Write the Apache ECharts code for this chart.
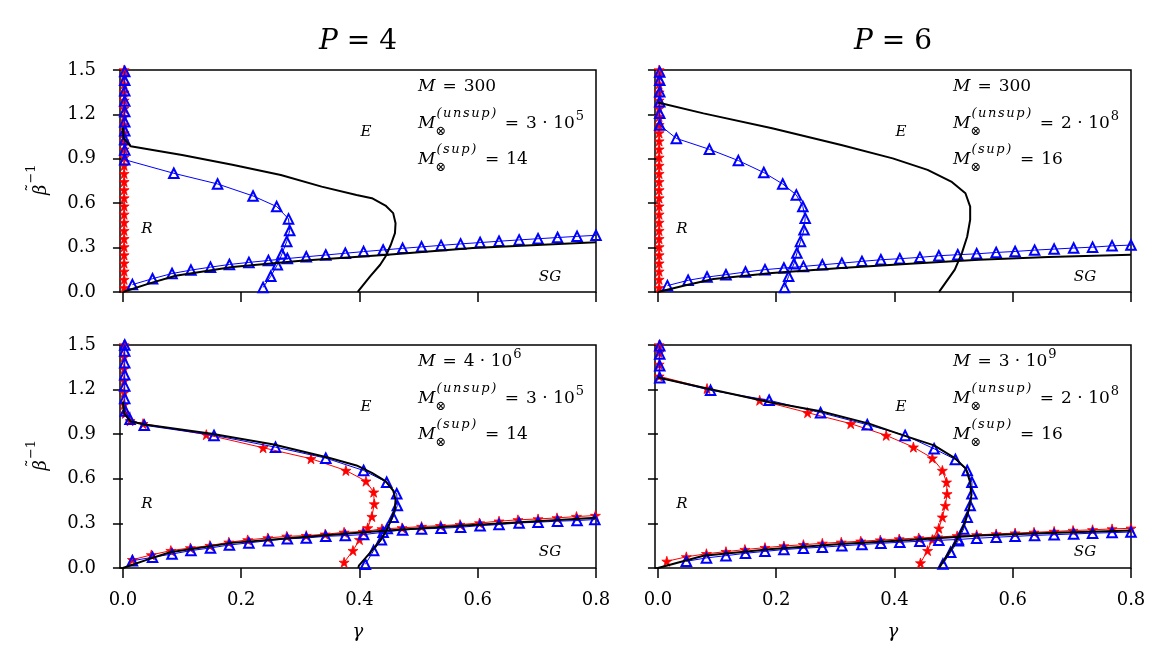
<!DOCTYPE html>
<html>
<head>
<meta charset="utf-8">
<script src="https://cdn.jsdelivr.net/npm/echarts@6.0.0/dist/echarts.min.js"></script>
<style>
  html, body { margin: 0; padding: 0; background: #fff; }
  #chart { width: 1176px; height: 672px; }
</style>
</head>
<body>
<div id="chart"></div>
<script>
// tick values
const xTicks = [0.0, 0.2, 0.4, 0.6, 0.8];
const yTicks = [0.0, 0.3, 0.6, 0.9, 1.2, 1.5];

// ---- P = 4, M = 300 (top left)
const tlBlackE = [[0.0,1.11],[0.001,1.04],[0.013,0.985],[0.10,0.925],[0.185,0.86],[0.267,0.791],[0.336,0.712],[0.395,0.656],[0.421,0.634],[0.444,0.584],[0.457,0.533],[0.461,0.465],[0.46,0.398],[0.453,0.319],[0.444,0.24],[0.435,0.184],[0.418,0.106],[0.399,0.011],[0.397,0.0]];
const tlBlackSG = [[0,0],[0.045,0.058],[0.089,0.110],[0.185,0.169],[0.301,0.211],[0.447,0.252],[0.592,0.297],[0.80,0.336]];
const tlBlue = [[0.003,1.49],[0.003,1.43],[0.003,1.36],[0.003,1.29],[0.003,1.22],[0.003,1.15],[0.003,1.09],[0.003,1.03],[0.003,0.96],[0.003,0.894],[0.086,0.802],[0.160,0.730],[0.220,0.649],[0.260,0.577],[0.280,0.494],[0.282,0.416],[0.277,0.342],[0.269,0.258],[0.261,0.184],[0.250,0.106],[0.237,0.031]];
const tlBlueSG = [[0.016,0.05],[0.05,0.09],[0.083,0.125],[0.115,0.148],[0.148,0.168],[0.18,0.186],[0.213,0.200],[0.246,0.213],[0.278,0.226],[0.31,0.238],[0.343,0.250],[0.376,0.262],[0.407,0.273],[0.44,0.284],[0.473,0.295],[0.505,0.305],[0.538,0.315],[0.571,0.325],[0.604,0.334],[0.636,0.343],[0.67,0.352],[0.702,0.360],[0.735,0.368],[0.768,0.376],[0.80,0.383]];
const tlRed = [[0.002,0.03],[0.002,0.085],[0.002,0.14],[0.002,0.195],[0.002,0.25],[0.002,0.305],[0.002,0.36],[0.002,0.415],[0.002,0.47],[0.002,0.525],[0.002,0.58],[0.002,0.635],[0.002,0.69],[0.002,0.745],[0.002,0.80],[0.002,0.855],[0.002,0.91],[0.002,0.965],[0.002,1.02],[0.002,1.075],[0.002,1.13],[0.002,1.185],[0.002,1.24],[0.002,1.295],[0.002,1.35],[0.002,1.405],[0.002,1.46],[0.002,1.5]];

// ---- P = 6, M = 300 (top right)
const trBlackE = [[0.0,1.281],[0.077,1.207],[0.193,1.106],[0.31,0.993],[0.397,0.903],[0.456,0.825],[0.496,0.746],[0.52,0.667],[0.528,0.577],[0.528,0.488],[0.523,0.375],[0.514,0.263],[0.502,0.151],[0.476,0.004],[0.475,0.0]];
const trBlackSG = [[0,0],[0.047,0.045],[0.094,0.088],[0.193,0.128],[0.31,0.162],[0.426,0.191],[0.543,0.218],[0.66,0.236],[0.80,0.252]];
const trBlue = [[0.003,1.487],[0.003,1.431],[0.003,1.353],[0.003,1.285],[0.003,1.207],[0.003,1.128],[0.031,1.038],[0.087,0.964],[0.136,0.888],[0.179,0.807],[0.211,0.730],[0.234,0.656],[0.245,0.578],[0.249,0.499],[0.247,0.420],[0.241,0.342],[0.235,0.263],[0.230,0.191],[0.221,0.106],[0.214,0.031]];
const trBlueSG = [[0.016,0.043],[0.051,0.079],[0.083,0.101],[0.115,0.117],[0.148,0.135],[0.181,0.151],[0.213,0.162],[0.246,0.173],[0.278,0.184],[0.311,0.195],[0.345,0.207],[0.377,0.218],[0.409,0.225],[0.443,0.234],[0.475,0.245],[0.507,0.252],[0.539,0.258],[0.572,0.267],[0.604,0.274],[0.637,0.283],[0.670,0.290],[0.703,0.297],[0.735,0.303],[0.768,0.312],[0.80,0.317]];
const trRed = [[0.002,0.03],[0.002,0.085],[0.002,0.14],[0.002,0.195],[0.002,0.25],[0.002,0.305],[0.002,0.36],[0.002,0.415],[0.002,0.47],[0.002,0.525],[0.002,0.58],[0.002,0.635],[0.002,0.69],[0.002,0.745],[0.002,0.80],[0.002,0.855],[0.002,0.91],[0.002,0.965],[0.002,1.02],[0.002,1.075],[0.002,1.13],[0.002,1.185],[0.002,1.24],[0.002,1.295],[0.002,1.35],[0.002,1.405],[0.002,1.46],[0.002,1.5]];

// ---- P = 4, M = 4e6 (bottom left)
const blBlackE = [[0.0,1.12],[0.002,1.04],[0.013,0.985],[0.037,0.965],[0.15,0.903],[0.255,0.831],[0.348,0.741],[0.395,0.690],[0.421,0.640],[0.444,0.584],[0.457,0.521],[0.461,0.461],[0.46,0.398],[0.453,0.319],[0.444,0.24],[0.435,0.184],[0.421,0.117],[0.399,0.016],[0.398,0.0]];
const blBlackSG = [[0,0],[0.04,0.055],[0.08,0.106],[0.185,0.169],[0.30,0.207],[0.447,0.252],[0.592,0.29],[0.80,0.338]];
const blBlue = [[0.003,1.50],[0.003,1.46],[0.003,1.38],[0.003,1.30],[0.003,1.225],[0.003,1.14],[0.004,1.056],[0.012,1.0],[0.036,0.96],[0.154,0.892],[0.258,0.813],[0.343,0.739],[0.407,0.656],[0.446,0.577],[0.463,0.499],[0.464,0.420],[0.457,0.342],[0.447,0.265],[0.437,0.19],[0.424,0.117],[0.41,0.025]];
const blBlueSG = [[0.016,0.049],[0.05,0.072],[0.083,0.094],[0.115,0.117],[0.148,0.135],[0.18,0.155],[0.213,0.169],[0.246,0.184],[0.278,0.196],[0.31,0.202],[0.343,0.213],[0.376,0.218],[0.407,0.225],[0.44,0.24],[0.473,0.256],[0.505,0.263],[0.538,0.267],[0.571,0.274],[0.604,0.285],[0.636,0.292],[0.67,0.303],[0.702,0.308],[0.735,0.315],[0.768,0.319],[0.798,0.326]];
const blRed = [[0.002,1.5],[0.002,1.42],[0.002,1.34],[0.002,1.26],[0.002,1.18],[0.002,1.10],[0.004,1.04],[0.012,0.99],[0.034,0.971],[0.141,0.897],[0.237,0.809],[0.318,0.735],[0.377,0.656],[0.411,0.584],[0.424,0.510],[0.425,0.431],[0.421,0.346],[0.414,0.270],[0.40,0.191],[0.389,0.117],[0.374,0.038]];
const blRedSG = [[0.016,0.056],[0.048,0.088],[0.081,0.117],[0.114,0.135],[0.147,0.151],[0.179,0.173],[0.211,0.189],[0.245,0.202],[0.277,0.213],[0.31,0.218],[0.342,0.227],[0.374,0.240],[0.406,0.245],[0.438,0.263],[0.472,0.270],[0.505,0.279],[0.537,0.285],[0.57,0.292],[0.603,0.303],[0.636,0.315],[0.668,0.324],[0.702,0.330],[0.734,0.337],[0.767,0.346],[0.799,0.353]];

// ---- P = 6, M = 3e9 (bottom right)
const brBlackE = [[0.0,1.281],[0.083,1.207],[0.188,1.117],[0.275,1.054],[0.357,0.971],[0.415,0.892],[0.467,0.825],[0.502,0.739],[0.521,0.667],[0.528,0.577],[0.53,0.488],[0.526,0.398],[0.517,0.285],[0.505,0.184],[0.476,0.004],[0.475,0.0]];
const brBlackSG = [[0,0],[0.077,0.083],[0.193,0.128],[0.31,0.162],[0.426,0.189],[0.543,0.218],[0.66,0.236],[0.80,0.252]];
const brBlue = [[0.003,1.495],[0.003,1.44],[0.003,1.36],[0.003,1.28],[0.089,1.195],[0.188,1.128],[0.275,1.045],[0.354,0.964],[0.418,0.892],[0.467,0.802],[0.503,0.73],[0.523,0.656],[0.531,0.577],[0.531,0.499],[0.528,0.420],[0.523,0.342],[0.517,0.263],[0.508,0.184],[0.495,0.106],[0.482,0.027]];
const brBlueSG = [[0.048,0.045],[0.082,0.068],[0.115,0.083],[0.148,0.099],[0.181,0.112],[0.213,0.124],[0.246,0.133],[0.278,0.140],[0.311,0.149],[0.345,0.158],[0.377,0.166],[0.409,0.173],[0.443,0.180],[0.475,0.186],[0.508,0.192],[0.539,0.200],[0.572,0.207],[0.604,0.213],[0.637,0.219],[0.670,0.224],[0.703,0.229],[0.735,0.234],[0.768,0.238],[0.80,0.242]];
const brRed = [[0.002,1.5],[0.002,1.45],[0.002,1.37],[0.002,1.29],[0.083,1.207],[0.172,1.128],[0.253,1.045],[0.326,0.971],[0.386,0.892],[0.432,0.813],[0.464,0.739],[0.481,0.656],[0.488,0.577],[0.489,0.499],[0.486,0.42],[0.481,0.342],[0.475,0.267],[0.464,0.191],[0.456,0.117],[0.444,0.034]];
const brRedSG = [[0.015,0.045],[0.048,0.075],[0.082,0.096],[0.115,0.11],[0.147,0.124],[0.181,0.137],[0.213,0.148],[0.246,0.157],[0.278,0.166],[0.31,0.173],[0.343,0.18],[0.376,0.188],[0.408,0.195],[0.441,0.202],[0.473,0.208],[0.506,0.216],[0.539,0.223],[0.572,0.229],[0.604,0.235],[0.636,0.240],[0.67,0.246],[0.702,0.252],[0.735,0.257],[0.768,0.263],[0.80,0.267]];

// texts
const titles = ['4', '6'];
const annotM = ['300', '300', '4 · 10', '3 · 10'];
const annotMExp = ['', '', '6', '9'];
const annotUnsup = ['3 · 10', '2 · 10', '3 · 10', '2 · 10'];
const annotUnsupExp = ['5', '8', '5', '8'];
const annotSup = ['14', '16', '14', '16'];

const FONT = '"DejaVu Serif", "Liberation Serif", serif';
const FS = 17, SS = 13, SPC = 1.6;

const GRIDS = [
  {left: 120, top: 70, width: 476, height: 222},
  {left: 655, top: 70, width: 476, height: 222},
  {left: 120, top: 345, width: 476, height: 223},
  {left: 655, top: 345, width: 476, height: 223}
];

const ctx = document.createElement('canvas').getContext('2d');
function tw(s, size, italic) {
  ctx.font = (italic ? 'italic ' : '') + size + 'px ' + FONT;
  return ctx.measureText(s).width;
}
function tx(x, y, text, size, italic, align) {
  return {
    type: 'text', x: x, y: y, silent: true, z: 100,
    style: {
      text: text, fill: '#000',
      font: (italic ? 'italic ' : '') + size + 'px ' + FONT,
      align: align || 'left', verticalAlign: 'middle',
      textAlign: align || 'left', textVerticalAlign: 'middle'
    }
  };
}
// M with optional stacked super/subscript, then "= rhs" with optional exponent
function annot(x, y, supTxt, rhs, rhsExp) {
  const out = [];
  let cx = x;
  out.push(tx(cx, y, 'M', FS, true));
  cx += tw('M', FS, true);
  if (supTxt) {
    let sx = cx + 1;
    for (const ch of supTxt) {
      out.push(tx(sx, y - 10, ch, SS, true));
      sx += tw(ch, SS, true) + SPC;
    }
    out.push(tx(cx, y + 8, '⊗', SS, false));
    cx = Math.max(sx, cx + tw('⊗', SS, false));
  }
  cx += 7;
  out.push(tx(cx, y, '=', FS, false));
  cx += tw('=', FS, false) + 7;
  out.push(tx(cx, y, rhs, FS, false));
  cx += tw(rhs, FS, false);
  if (rhsExp) out.push(tx(cx + 1, y - 7, rhsExp, SS, false));
  return out;
}

let graphics = [];
GRIDS.forEach((g, k) => {
  const ax = g.left + 298, ay = g.top + 17;
  graphics = graphics.concat(annot(ax, ay, '', annotM[k], annotMExp[k]));
  graphics = graphics.concat(annot(ax, ay + 37, '(unsup)', annotUnsup[k], annotUnsupExp[k]));
  graphics = graphics.concat(annot(ax, ay + 73, '(sup)', annotSup[k], ''));
  graphics.push(tx(g.left + 246, g.top + 62, 'E', 15, true, 'center'));
  graphics.push(tx(g.left + 27, g.top + 159, 'R', 15, true, 'center'));
  graphics.push(tx(g.left + 430, g.top + 207, 'SG', 15, true, 'center'));
});
[0, 1].forEach(k => {
  const cx = GRIDS[k].left + GRIDS[k].width / 2;
  const wP = tw('P', 28, true), wE = tw('=', 28, false), wN = tw(titles[k], 28, false);
  let sx = cx - (wP + wE + wN + 18) / 2;
  graphics.push(tx(sx, 42, 'P', 28, true));
  graphics.push(tx(sx + wP + 9, 42, '=', 28, false));
  graphics.push(tx(sx + wP + wE + 18, 42, titles[k], 28, false));
  graphics.push(tx(GRIDS[k + 2].left + GRIDS[k + 2].width / 2, 632, 'γ', 18, true, 'center'));
});
// rotated y label  β̃^(-1)
[0, 2].forEach(k => {
  const wb = tw('β', 18, true);
  graphics.push({
    type: 'group', x: 38, y: GRIDS[k].top + GRIDS[k].height / 2, rotation: Math.PI / 2, silent: true,
    children: [
      tx(-14, 3, 'β', 18, true),
      tx(-14 + wb / 2 + 2, -4, '˜', 16, false, 'center'),
      tx(-14 + wb + 1, -6, '−1', 13, false)
    ]
  });
});

const STAR = 'path://M50,0 L61,35 L98,35 L68,57 L79,91 L50,70 L21,91 L32,57 L2,35 L39,35 Z';

function black(data, gi) {
  return {type: 'line', xAxisIndex: gi, yAxisIndex: gi, data: data, symbol: 'none', z: 5,
    lineStyle: {color: '#000', width: 2}, silent: true};
}
function blue(data, gi) {
  return {type: 'line', xAxisIndex: gi, yAxisIndex: gi, data: data, symbol: 'triangle', symbolSize: 9.5, z: 4,
    itemStyle: {color: 'rgba(255,255,255,0)', borderColor: '#0000ff', borderWidth: 2},
    lineStyle: {color: '#0000ff', width: 1}, silent: true};
}
function red(data, gi) {
  return {type: 'line', xAxisIndex: gi, yAxisIndex: gi, data: data, symbol: STAR, symbolSize: 10, z: 3,
    itemStyle: {color: '#ff0000', borderColor: '#ff0000', borderWidth: 0.8}, lineStyle: {color: '#ff0000', width: 1}, silent: true};
}

const series = [
  red(tlRed, 0), blue(tlBlue, 0), blue(tlBlueSG, 0), black(tlBlackE, 0), black(tlBlackSG, 0),
  red(trRed, 1), blue(trBlue, 1), blue(trBlueSG, 1), black(trBlackE, 1), black(trBlackSG, 1),
  red(blRed, 2), red(blRedSG, 2), blue(blBlue, 2), blue(blBlueSG, 2), black(blBlackE, 2), black(blBlackSG, 2),
  red(brRed, 3), red(brRedSG, 3), blue(brBlue, 3), blue(brBlueSG, 3), black(brBlackE, 3), black(brBlackSG, 3)
];

const tickStyle = {show: true, inside: false, length: 10, lineStyle: {color: '#000', width: 1.5}};
const option = {
  animation: false,
  backgroundColor: '#fff',
  grid: GRIDS.map(g => Object.assign({show: true, borderColor: '#000', borderWidth: 1.5, backgroundColor: 'transparent', containLabel: false}, g)),
  xAxis: GRIDS.map((g, i) => ({
    gridIndex: i, type: 'value', min: -0.005, max: 0.8,
    axisLine: {show: false},
    axisTick: Object.assign({customValues: xTicks}, tickStyle),
    axisLabel: {show: i >= 2, customValues: xTicks, formatter: v => v.toFixed(1), fontSize: 18, fontFamily: FONT, color: '#000', margin: 23},
    splitLine: {show: false}
  })),
  yAxis: GRIDS.map((g, i) => ({
    gridIndex: i, type: 'value', min: 0, max: 1.5, interval: 0.3,
    axisLine: {show: false},
    axisTick: tickStyle,
    axisLabel: {show: i % 2 === 0, formatter: v => v.toFixed(1), fontSize: 18, fontFamily: FONT, color: '#000', margin: 24},
    splitLine: {show: false}
  })),
  graphic: {elements: graphics},
  series: series
};

const chart = echarts.init(document.getElementById('chart'));
chart.setOption(option);
</script>
</body>
</html>
